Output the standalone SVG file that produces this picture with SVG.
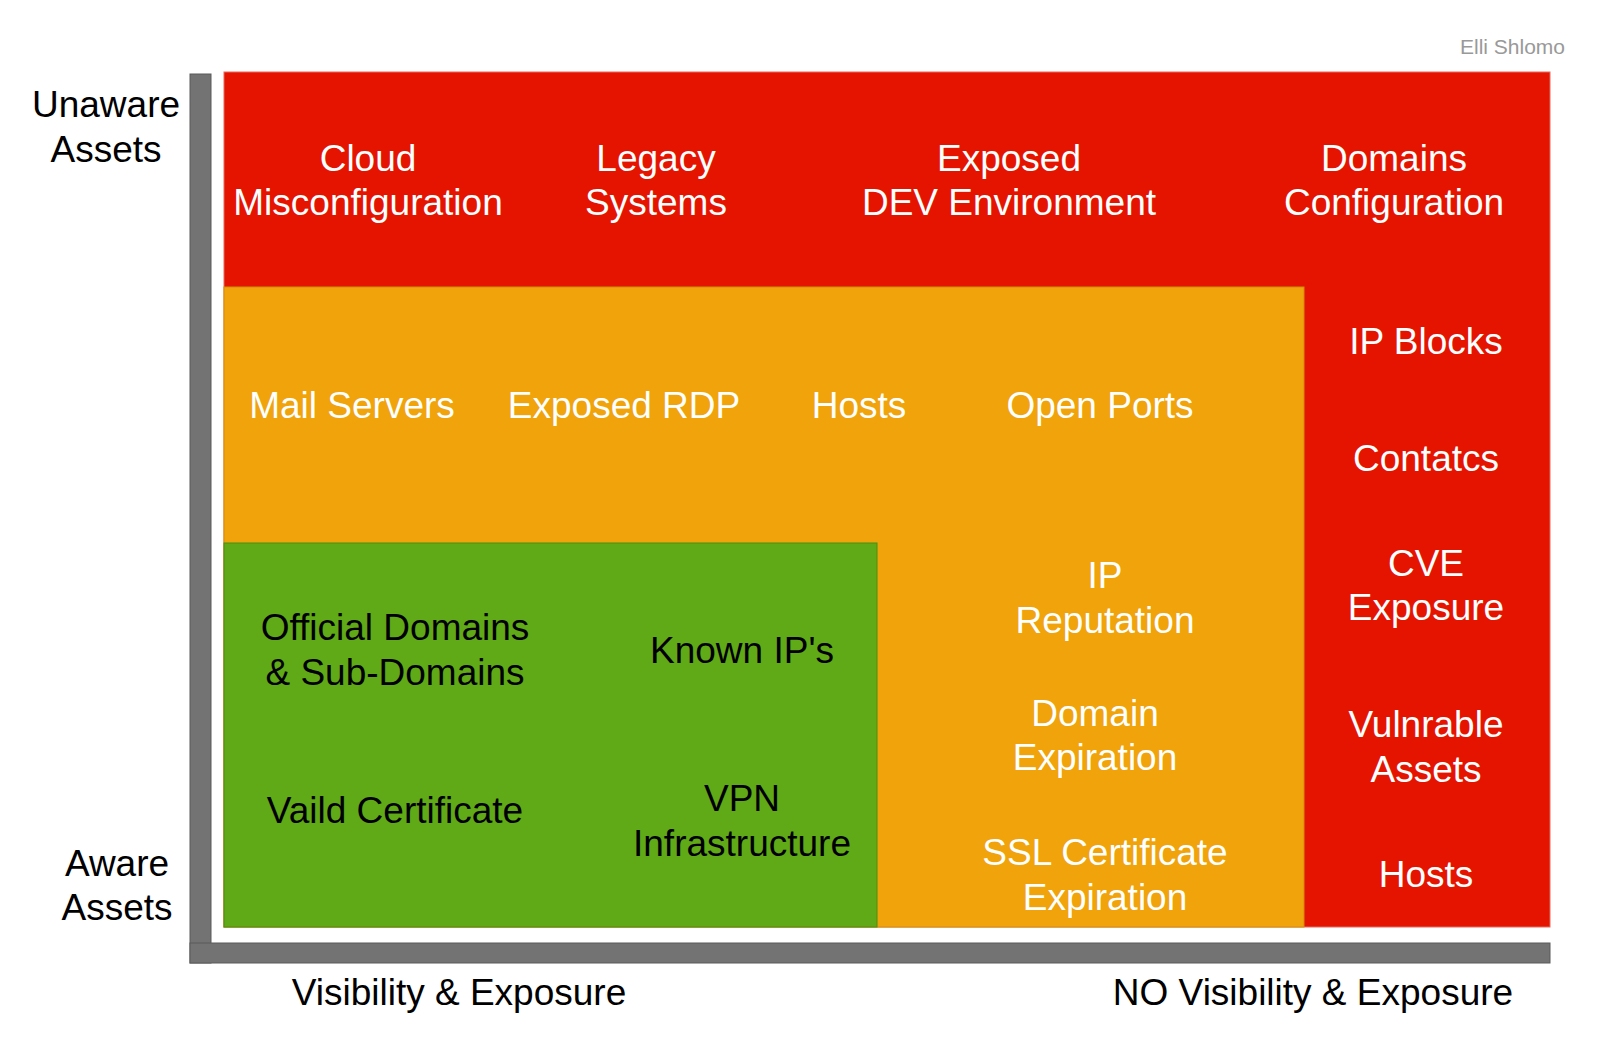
<svg xmlns="http://www.w3.org/2000/svg" width="1600" height="1041" viewBox="0 0 1600 1041">
<style>
text{font-family:"Liberation Sans",Arial,sans-serif;font-size:37px;text-anchor:middle}
.w{fill:#ffffff}
.k{fill:#000000}
.axis{fill:#737373;stroke:#5a5a5a;stroke-width:1}
</style>
<rect width="1600" height="1041" fill="#ffffff"/>
<g id="axes">
<rect class="axis" x="190" y="74" width="21" height="889"/>
<rect class="axis" x="190" y="943" width="1360" height="20"/>
</g>
<g id="red-zone">
<rect x="224" y="72" width="1326" height="855" fill="#E51400" stroke="#e86a5f" stroke-width="1"/>
<text class="w" x="368" y="171">Cloud</text><text class="w" x="368" y="215">Misconfiguration</text>
<text class="w" x="656" y="171">Legacy</text><text class="w" x="656" y="215">Systems</text>
<text class="w" x="1009" y="171">Exposed</text><text class="w" x="1009" y="215">DEV Environment</text>
<text class="w" x="1394" y="171">Domains</text><text class="w" x="1394" y="215">Configuration</text>
<text class="w" x="1426" y="354">IP Blocks</text>
<text class="w" x="1426" y="471">Contatcs</text>
<text class="w" x="1426" y="576">CVE</text><text class="w" x="1426" y="620">Exposure</text>
<text class="w" x="1426" y="737">Vulnrable</text><text class="w" x="1426" y="782">Assets</text>
<text class="w" x="1426" y="887">Hosts</text>
</g>
<g id="orange-zone">
<rect x="224" y="287" width="1080" height="640" fill="#F0A30A" stroke="#d48f08" stroke-width="1"/>
<text class="w" x="352" y="418">Mail Servers</text>
<text class="w" x="624" y="418">Exposed RDP</text>
<text class="w" x="859" y="418">Hosts</text>
<text class="w" x="1100" y="418">Open Ports</text>
<text class="w" x="1105" y="588">IP</text><text class="w" x="1105" y="633">Reputation</text>
<text class="w" x="1095" y="726">Domain</text><text class="w" x="1095" y="770">Expiration</text>
<text class="w" x="1105" y="865">SSL Certificate</text><text class="w" x="1105" y="910">Expiration</text>
</g>
<g id="green-zone">
<rect x="224" y="543" width="653" height="384" fill="#60A917" stroke="#4a8f10" stroke-width="1"/>
<text class="k" x="395" y="640">Official Domains</text><text class="k" x="395" y="685">&amp; Sub-Domains</text>
<text class="k" x="742" y="663">Known IP's</text>
<text class="k" x="395" y="823">Vaild Certificate</text>
<text class="k" x="742" y="811">VPN</text><text class="k" x="742" y="856">Infrastructure</text>
</g>
<g id="labels">
<text class="k" x="106" y="117">Unaware</text><text class="k" x="106" y="162">Assets</text>
<text class="k" x="117" y="876">Aware</text><text class="k" x="117" y="920">Assets</text>
<text class="k" x="459" y="1005">Visibility &amp; Exposure</text>
<text class="k" x="1313" y="1005">NO Visibility &amp; Exposure</text>
<text x="1565" y="54" style="font-size:21px;text-anchor:end;fill:#999999">Elli Shlomo</text>
</g>
<g id="connectors"/>
</svg>
